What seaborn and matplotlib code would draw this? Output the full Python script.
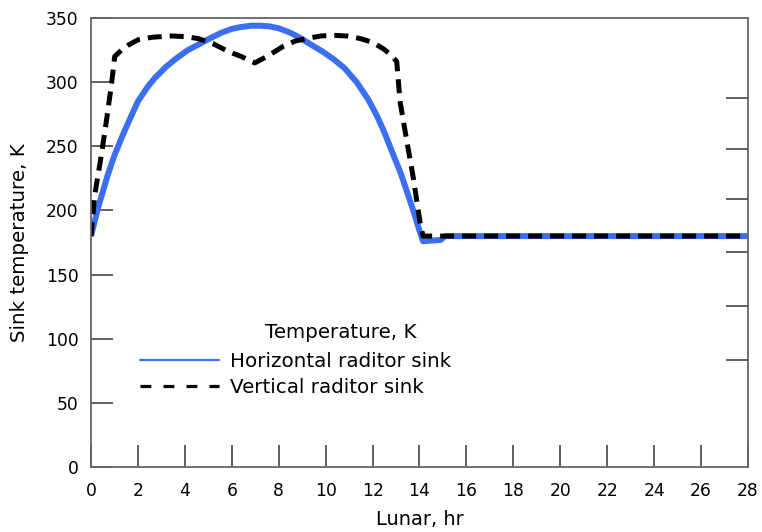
import matplotlib
matplotlib.use("Agg")
import matplotlib.pyplot as plt
from matplotlib.lines import Line2D
import seaborn as sns
import pandas as pd

# Horizontal radiator sink temperature (K) vs lunar time (hr)
horiz_t = [0.0, 0.3, 0.72, 1.0, 1.29, 1.6, 2.0, 2.4, 2.71, 3.2, 3.6, 4.13, 4.6, 5.0, 5.55, 6.0, 6.4, 6.83, 7.2, 7.6,
           8.0, 8.5, 8.91, 9.4, 9.9, 10.33, 10.8, 11.32, 11.8, 12.18, 12.5, 12.89, 13.2, 13.46, 13.75, 14.02, 14.15, 14.9, 15.1, 28.0]
horiz_k = [180, 202, 228, 243, 256, 269, 285, 296, 303, 312, 318, 325, 329.5, 333.5, 338.5, 341.5, 343, 344, 344, 343.5,
           342, 338.5, 334.5, 329, 323.5, 318, 311, 300, 287, 274, 261, 243, 229, 215, 199, 183, 176, 177, 180, 180]

# Vertical radiator sink temperature (K) vs lunar time (hr)
vert_t = [0.0, 0.16, 0.44, 0.65, 0.87, 1.01, 1.3, 1.6, 2.0, 2.6, 3.42, 4.0, 4.56, 5.2, 5.84, 6.4, 6.98,
          7.5, 8.2, 8.7, 9.19, 9.8, 10.33, 10.9, 11.47, 12.0, 12.46, 12.8, 13.03, 13.17, 13.46, 13.74, 14.02, 14.15, 28.0]
vert_k = [180, 212, 243, 269, 298, 320, 325, 329, 333, 335, 336, 335.5, 334, 330, 324, 320, 315,
          320, 328, 332, 334, 336, 336.5, 336, 334, 331, 326, 321, 316, 285, 254, 225, 191, 180, 180]

x_ticks = [0, 2, 4, 6, 8, 10, 12, 14, 16, 18, 20, 22, 24, 26, 28]
y_ticks = [0, 50, 100, 150, 200, 250, 300, 350]
right_ticks = [83.4, 125.8, 167.6, 208.7, 247.9, 287.4]

legend_title = "Temperature, K"
series_names = ["Horizontal raditor sink", "Vertical raditor sink"]

sns.set_style("white")
plt.rcParams['font.family'] = ['DejaVu Sans']
plt.rcParams['text.color'] = 'black'
plt.rcParams['axes.labelcolor'] = 'black'
plt.rcParams['xtick.color'] = 'black'
plt.rcParams['ytick.color'] = 'black'

fig = plt.figure(figsize=(7.62, 5.32), dpi=100)
ax = fig.add_axes([91/762, 65/532, (748-91)/762, (467-18)/532])

blue = "#3b6ff0"
df_h = pd.DataFrame({"t": horiz_t, "k": horiz_k})
df_v = pd.DataFrame({"t": vert_t, "k": vert_k})
sns.lineplot(data=df_h, x="t", y="k", ax=ax, color=blue, lw=4.3, sort=False,
             solid_joinstyle="round", solid_capstyle="butt")
sns.lineplot(data=df_v, x="t", y="k", ax=ax, color="black", lw=3.6, sort=False,
             dashes=False, linestyle=(0, (2.8, 1.6)))

ax.set_xlim(0, 28)
ax.set_ylim(0, 350)
ax.set_xticks(x_ticks)
ax.set_yticks(y_ticks)
spine_col = "#666666"
for s in ax.spines.values():
    s.set_color(spine_col)
    s.set_linewidth(1.3)
ax.tick_params(axis="both", direction="in", length=16, width=1.2, color="#444444",
               labelsize=12.3, labelcolor="black")
ax.tick_params(axis="x", top=False, bottom=True, pad=11)
ax.tick_params(axis="y", left=True, right=False, pad=9)

ax2 = ax.twinx()
ax2.set_ylim(0, 350)
ax2.set_yticks(right_ticks)
ax2.set_yticklabels([])
ax2.tick_params(axis="y", direction="in", length=16, width=1.2, color="#444444", right=True)
for s in ax2.spines.values():
    s.set_visible(False)

ax.set_xlabel("Lunar, hr", fontsize=14, color="black")
ax.set_ylabel("Sink temperature, K", fontsize=14.3, color="black")
ax.xaxis.set_label_coords(0.5, -0.095)
ax.yaxis.set_label_coords(-0.095, 0.5)

handles = [Line2D([], [], color=blue, lw=1.6),
           Line2D([], [], color="black", lw=2.3, linestyle=(0, (3.4, 3.8)))]
leg = ax.legend(handles, series_names, loc="center left",
                bbox_to_anchor=((140-91)/657, (467-374.5)/449), frameon=False,
                fontsize=14.3, handlelength=4.0, handletextpad=0.55,
                labelspacing=0.32, borderpad=0, borderaxespad=0)
for txt in leg.get_texts():
    txt.set_color("black")
ax.text((341-91)/657, (467-333)/449, legend_title, transform=ax.transAxes,
        ha="center", va="center", fontsize=14.3, color="black")

fig.savefig("out.png", dpi=100, facecolor="white")
